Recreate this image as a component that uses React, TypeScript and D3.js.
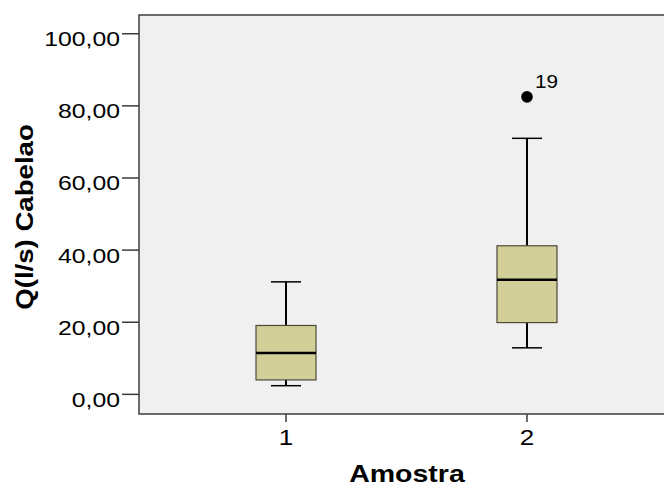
import React from "react";
import * as d3 from "d3";

const categories = ["1", "2"];
const whiskerLow = [2.4, 12.9];
const q1 = [4.0, 19.9];
const median = [11.45, 31.8];
const q3 = [19.1, 41.2];
const whiskerHigh = [31.2, 71.0];
const outlierCat = ["2"];
const outlierVal = [82.5];
const outlierLabel = ["19"];
const yTicks = [0, 20, 40, 60, 80, 100];

const W = 664;
const H = 487;
const left = 139;
const right = 674;
const top = 15;
const bottom = 414;

const FONT = "'Liberation Sans', Arial, sans-serif";

export default function App() {
  const y = d3.scaleLinear().domain([-5.45, 105.2]).range([bottom, top]);
  const x = d3.scalePoint<string>().domain(categories).range([left, right]).padding(0.61);
  const fmt = (v: number) => v.toFixed(2).replace(".", ",");
  const boxW = 60;
  const capW = 30;

  return (
    <svg width={W} height={H} style={{ position: "absolute", left: 0, top: 0, background: "#fff" }}>
      <rect x={left} y={top} width={right - left} height={bottom - top} fill="#F0F0F0" stroke="#3c3c3c" strokeWidth={1.5} />
      {yTicks.map((t) => (
        <g key={t}>
          <line x1={122} x2={left} y1={y(t)} y2={y(t)} stroke="#3c3c3c" strokeWidth={1.5} />
          <g transform={`translate(120,${y(t) + 12.5}) scale(1.18,1)`}>
            <text x={0} y={0} textAnchor="end" fontFamily={FONT} fontSize={21} fill="#000">
              {fmt(t)}
            </text>
          </g>
        </g>
      ))}
      {categories.map((c) => (
        <g key={c}>
          <line x1={x(c)!} x2={x(c)!} y1={bottom} y2={422} stroke="#3c3c3c" strokeWidth={1.5} />
          <g transform={`translate(${x(c)!},445) scale(1.18,1)`}>
            <text x={0} y={0} textAnchor="middle" fontFamily={FONT} fontSize={22} fill="#000">
              {c}
            </text>
          </g>
        </g>
      ))}
      {categories.map((c, i) => {
        const cx = x(c)!;
        return (
          <g key={"b" + c}>
            <line x1={cx} x2={cx} y1={y(whiskerHigh[i])} y2={y(q3[i])} stroke="#000" strokeWidth={2} />
            <line x1={cx} x2={cx} y1={y(q1[i])} y2={y(whiskerLow[i])} stroke="#000" strokeWidth={2} />
            <line x1={cx - capW / 2} x2={cx + capW / 2} y1={y(whiskerHigh[i])} y2={y(whiskerHigh[i])} stroke="#000" strokeWidth={1.5} />
            <line x1={cx - capW / 2} x2={cx + capW / 2} y1={y(whiskerLow[i])} y2={y(whiskerLow[i])} stroke="#000" strokeWidth={1.5} />
            <rect x={cx - boxW / 2} y={y(q3[i])} width={boxW} height={y(q1[i]) - y(q3[i])} fill="#D3CF98" stroke="#4a4a3a" strokeWidth={1.2} />
            <line x1={cx - boxW / 2} x2={cx + boxW / 2} y1={y(median[i])} y2={y(median[i])} stroke="#000" strokeWidth={2.5} />
          </g>
        );
      })}
      {outlierCat.map((c, i) => (
        <g key={"o" + i}>
          <circle cx={x(c)!} cy={y(outlierVal[i])} r={5.8} fill="#000" />
          <g transform={`translate(${x(c)! + 8},${y(outlierVal[i]) - 9}) scale(1.15,1)`}>
            <text x={0} y={0} fontFamily={FONT} fontSize={18} fill="#000">
              {outlierLabel[i]}
            </text>
          </g>
        </g>
      ))}
      <g transform={`translate(33,217) rotate(-90) scale(1.15,1)`}>
        <text x={0} y={0} textAnchor="middle" fontFamily={FONT} fontWeight="bold" fontSize={24} fill="#000">
          Q(l/s) Cabelao
        </text>
      </g>
      <g transform={`translate(407,481.5) scale(1.24,1)`}>
        <text x={0} y={0} textAnchor="middle" fontFamily={FONT} fontWeight="bold" fontSize={23} fill="#000">
          Amostra
        </text>
      </g>
    </svg>
  );
}
